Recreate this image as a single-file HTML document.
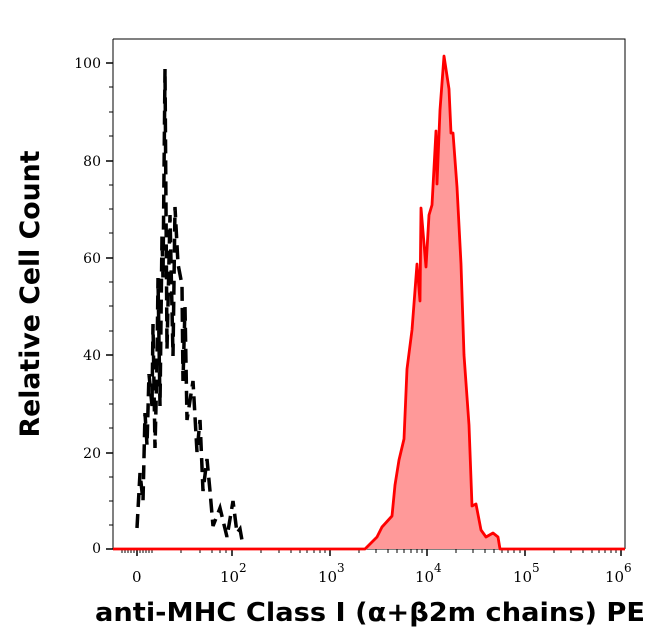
<!DOCTYPE html>
<html><head><meta charset="utf-8"><style>body{margin:0;background:#fff}svg{display:block}</style></head><body>
<svg width="661" height="641" xmlns="http://www.w3.org/2000/svg">
<rect width="661" height="641" fill="#fff"/>
<g stroke="#000" stroke-width="1" fill="none">
<path d="M113 39 H625 V549"/>
<path d="M113 39 V549 H625"/>
</g>
<g stroke="#000" stroke-width="1.5">
<line x1="106" y1="63" x2="113" y2="63"/><line x1="106" y1="161" x2="113" y2="161"/><line x1="106" y1="258" x2="113" y2="258"/><line x1="106" y1="355" x2="113" y2="355"/><line x1="106" y1="453" x2="113" y2="453"/><line x1="106" y1="549" x2="113" y2="549"/>
</g>
<g stroke="#000" stroke-width="1">
<line x1="109" y1="112" x2="113" y2="112"/><line x1="109" y1="209" x2="113" y2="209"/><line x1="109" y1="306" x2="113" y2="306"/><line x1="109" y1="404" x2="113" y2="404"/><line x1="109" y1="501" x2="113" y2="501"/>
<line x1="109" y1="87" x2="113" y2="87"/><line x1="109" y1="136" x2="113" y2="136"/><line x1="109" y1="185" x2="113" y2="185"/><line x1="109" y1="233" x2="113" y2="233"/><line x1="109" y1="282" x2="113" y2="282"/><line x1="109" y1="331" x2="113" y2="331"/><line x1="109" y1="380" x2="113" y2="380"/><line x1="109" y1="428" x2="113" y2="428"/><line x1="109" y1="477" x2="113" y2="477"/><line x1="109" y1="525" x2="113" y2="525"/>
</g>
<g font-family="DejaVu Serif, Liberation Serif, serif" font-size="14" fill="#000" text-anchor="end">
<text x="101" y="68">100</text><text x="101" y="166">80</text><text x="101" y="263">60</text><text x="101" y="360">40</text><text x="101" y="458">20</text><text x="101" y="553">0</text>
</g>
<g stroke="#000" stroke-width="1.5">
<line x1="137" y1="549" x2="137" y2="556"/><line x1="232" y1="549" x2="232" y2="556"/><line x1="330" y1="549" x2="330" y2="556"/><line x1="427" y1="549" x2="427" y2="556"/><line x1="525" y1="549" x2="525" y2="556"/><line x1="621" y1="549" x2="621" y2="556"/>
</g>
<g stroke="#000" stroke-width="1">
<line x1="122" y1="549" x2="122" y2="553"/><line x1="125" y1="549" x2="125" y2="553"/><line x1="128" y1="549" x2="128" y2="553"/><line x1="131" y1="549" x2="131" y2="553"/><line x1="134" y1="549" x2="134" y2="553"/>
<line x1="140" y1="549" x2="140" y2="553"/><line x1="143" y1="549" x2="143" y2="553"/><line x1="146" y1="549" x2="146" y2="553"/><line x1="149" y1="549" x2="149" y2="553"/><line x1="152" y1="549" x2="152" y2="553"/>
<line x1="181" y1="549" x2="181" y2="553"/><line x1="200" y1="549" x2="200" y2="553"/><line x1="212" y1="549" x2="212" y2="553"/><line x1="220" y1="549" x2="220" y2="553"/><line x1="226" y1="549" x2="226" y2="553"/>
<line x1="261" y1="549" x2="261" y2="553"/><line x1="279" y1="549" x2="279" y2="553"/><line x1="291" y1="549" x2="291" y2="553"/><line x1="300" y1="549" x2="300" y2="553"/><line x1="307" y1="549" x2="307" y2="553"/><line x1="314" y1="549" x2="314" y2="553"/><line x1="320" y1="549" x2="320" y2="553"/><line x1="325" y1="549" x2="325" y2="553"/>
<line x1="359" y1="549" x2="359" y2="553"/><line x1="376" y1="549" x2="376" y2="553"/><line x1="388" y1="549" x2="388" y2="553"/><line x1="397" y1="549" x2="397" y2="553"/><line x1="404" y1="549" x2="404" y2="553"/><line x1="411" y1="549" x2="411" y2="553"/><line x1="417" y1="549" x2="417" y2="553"/><line x1="422" y1="549" x2="422" y2="553"/>
<line x1="456" y1="549" x2="456" y2="553"/><line x1="473" y1="549" x2="473" y2="553"/><line x1="485" y1="549" x2="485" y2="553"/><line x1="494" y1="549" x2="494" y2="553"/><line x1="502" y1="549" x2="502" y2="553"/><line x1="508" y1="549" x2="508" y2="553"/><line x1="514" y1="549" x2="514" y2="553"/><line x1="520" y1="549" x2="520" y2="553"/>
<line x1="554" y1="549" x2="554" y2="553"/><line x1="571" y1="549" x2="571" y2="553"/><line x1="583" y1="549" x2="583" y2="553"/><line x1="592" y1="549" x2="592" y2="553"/><line x1="599" y1="549" x2="599" y2="553"/><line x1="605" y1="549" x2="605" y2="553"/><line x1="611" y1="549" x2="611" y2="553"/><line x1="616" y1="549" x2="616" y2="553"/>
</g>
<g font-family="DejaVu Serif, Liberation Serif, serif" font-size="15" fill="#000">
<text x="132" y="582">0</text>
<text x="220" y="582">10</text><text x="239" y="572" font-size="12">2</text>
<text x="318" y="582">10</text><text x="337" y="572" font-size="12">3</text>
<text x="415" y="582">10</text><text x="434" y="572" font-size="12">4</text>
<text x="513" y="582">10</text><text x="532" y="572" font-size="12">5</text>
<text x="605" y="582">10</text><text x="624" y="572" font-size="12">6</text>
</g>
<path d="M113 549 L365 549 L377 537 L382 527 L392 516 L395 485 L399 460 L404 439 L407 369 L412 330 L417 264 L420 301 L421 208 L426 267 L429 215 L432 205 L436 131 L437 184 L440 110 L444 56 L449 89 L451 133 L453 133 L457 187 L461 264 L464 355 L469 425 L472 506 L476 504 L481 530 L486 537 L493 533 L498 537 L500 549 L625 549 Z" fill="#ff9999" stroke="none"/>
<path d="M113 549 L365 549 L377 537 L382 527 L392 516 L395 485 L399 460 L404 439 L407 369 L412 330 L417 264 L420 301 L421 208 L426 267 L429 215 L432 205 L436 131 L437 184 L440 110 L444 56 L449 89 L451 133 L453 133 L457 187 L461 264 L464 355 L469 425 L472 506 L476 504 L481 530 L486 537 L493 533 L498 537 L500 549 L625 549" fill="none" stroke="#ff0000" stroke-width="2.8" stroke-linejoin="round"/>
<path d="M137 528 L140 473 L143 501 L145 413 L147 445 L149 374 L152 406 L153 324 L155 448 L157 363 L158 278 L160 406 L162 236 L163 278 L165 69 L167 349 L170 215 L173 356 L175 207 L178 264 L182 285 L183 381 L185 307 L187 420 L193 381 L197 452 L200 420 L203 491 L207 459 L210 491 L213 526 L220 508 L227 537 L233 501 L237 533 L240 529 L243 546" fill="none" stroke="#000" stroke-width="3.5" stroke-dasharray="14,7"/>
<text x="370" y="621" text-anchor="middle" font-family="DejaVu Sans, Liberation Sans, sans-serif" font-weight="bold" font-size="26" fill="#000" textLength="550" lengthAdjust="spacingAndGlyphs">anti-MHC Class I (α+β2m chains) PE</text>
<text transform="translate(39,294) rotate(-90)" text-anchor="middle" font-family="DejaVu Sans, Liberation Sans, sans-serif" font-weight="bold" font-size="27" fill="#000" textLength="287" lengthAdjust="spacingAndGlyphs">Relative Cell Count</text>
</svg>
</body></html>
